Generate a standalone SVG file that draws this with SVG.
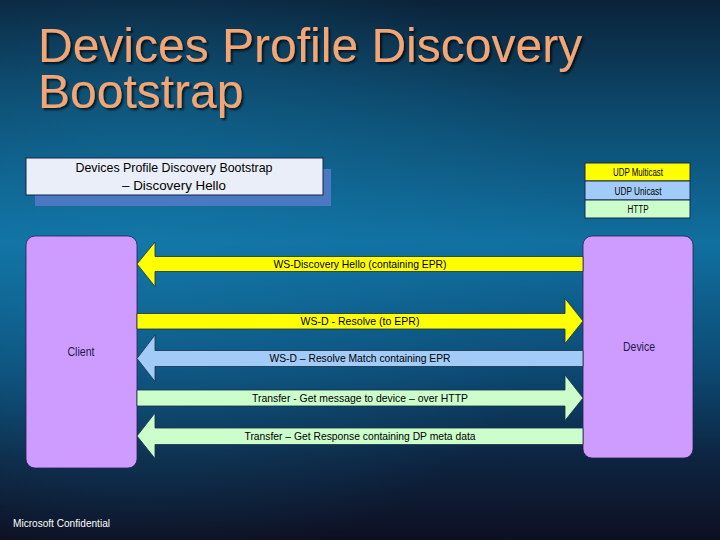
<svg xmlns="http://www.w3.org/2000/svg" width="720" height="540" viewBox="0 0 720 540">
  <defs>
    <linearGradient id="bg" x1="0" y1="0" x2="0" y2="1">
      <stop offset="0" stop-color="#0B2238"/>
      <stop offset="0.18" stop-color="#0C4466"/>
      <stop offset="0.45" stop-color="#1070A0"/>
      <stop offset="0.68" stop-color="#0C4A74"/>
      <stop offset="0.85" stop-color="#0D2440"/>
      <stop offset="1" stop-color="#0E0F22"/>
    </linearGradient>
    <radialGradient id="glow" cx="0.2" cy="0.45" r="0.6">
      <stop offset="0" stop-color="#1580B0" stop-opacity="0.45"/>
      <stop offset="1" stop-color="#1580B0" stop-opacity="0"/>
    </radialGradient>
    <filter id="tshadow" x="-5%" y="-5%" width="110%" height="120%">
      <feDropShadow dx="2" dy="2" stdDeviation="0.8" flood-color="#000" flood-opacity="0.7"/>
    </filter>
  </defs>
  <style>
    .title { font-family: "Liberation Sans", Arial, sans-serif; font-size: 48px; fill: #F2A676; }
    .lbl { font-family: "Liberation Sans", Arial, sans-serif; fill: #000; }
    .arrowtxt { font-family: "Liberation Sans", Arial, sans-serif; font-size: 11.5px; fill: #000; text-anchor: middle; }
    .node { fill: #CE9BFE; stroke: #2A2050; stroke-width: 0.8; }
    .nodetxt { font-family: "Liberation Sans", Arial, sans-serif; font-size: 12.5px; fill: #1C1C4A; text-anchor: middle; }
    .arr { stroke: #1B2E48; stroke-width: 0.8; stroke-linejoin: miter; }
    .yel { fill: #FFFF00; }
    .blu { fill: #A2CBF8; }
    .grn { fill: #CCFECC; }
    .legtxt { font-family: "Liberation Sans", Arial, sans-serif; font-size: 10px; fill: #000; text-anchor: middle; }
  </style>

  <rect x="0" y="0" width="720" height="540" fill="url(#bg)"/>
  <rect x="0" y="0" width="720" height="540" fill="url(#glow)"/>

  <g id="title" filter="url(#tshadow)">
    <text class="title" x="38" y="62">Devices Profile Discovery<tspan x="38" y="108">Bootstrap</tspan></text>
  </g>

  <g id="header">
    <rect x="35" y="169" width="296" height="37" fill="#4A78C2"/>
    <rect x="26" y="158" width="297" height="37" fill="#E9EEF8" stroke="#1A2440" stroke-width="1"/>
    <text class="lbl" x="174" y="172" font-size="13.5" text-anchor="middle" textLength="197" lengthAdjust="spacingAndGlyphs">Devices Profile Discovery Bootstrap</text>
    <text class="lbl" x="174" y="190" font-size="13.5" text-anchor="middle" textLength="104" lengthAdjust="spacingAndGlyphs">– Discovery Hello</text>
  </g>

  <g id="legend">
    <rect x="585" y="163" width="105" height="18" fill="#FFFF00" stroke="#1A2A50" stroke-width="1"/>
    <rect x="585" y="181" width="105" height="19" fill="#A2CBF8" stroke="#1A2A50" stroke-width="1"/>
    <rect x="585" y="200" width="105" height="18" fill="#CCFECC" stroke="#1A2A50" stroke-width="1"/>
    <text class="legtxt" x="638" y="175.5" textLength="50" lengthAdjust="spacingAndGlyphs">UDP Multicast</text>
    <text class="legtxt" x="638" y="194.5" textLength="47" lengthAdjust="spacingAndGlyphs">UDP Unicast</text>
    <text class="legtxt" x="638" y="213" textLength="21" lengthAdjust="spacingAndGlyphs">HTTP</text>
  </g>

  <g id="client">
    <rect class="node" x="26" y="236" width="111" height="232" rx="9" ry="9"/>
    <text class="nodetxt" x="81" y="356" textLength="27" lengthAdjust="spacingAndGlyphs">Client</text>
  </g>

  <g id="device">
    <rect class="node" x="583" y="236" width="110" height="222" rx="9" ry="9"/>
    <text class="nodetxt" x="639" y="351" textLength="32" lengthAdjust="spacingAndGlyphs">Device</text>
  </g>

  <g id="connectors">
    <g id="msg1">
      <polygon class="arr yel" points="583,256.5 155,256.5 155,242 137,264 155,286.5 155,271.5 583,271.5"/>
      <text class="arrowtxt" x="360" y="268" textLength="173" lengthAdjust="spacingAndGlyphs">WS-Discovery Hello (containing EPR)</text>
    </g>
    <g id="msg2">
      <polygon class="arr yel" points="137,313.5 565,313.5 565,298.5 583,321 565,343.5 565,329 137,329"/>
      <text class="arrowtxt" x="360" y="325" textLength="119" lengthAdjust="spacingAndGlyphs">WS-D -  Resolve (to EPR)</text>
    </g>
    <g id="msg3">
      <polygon class="arr blu" points="583,350.5 155,350.5 155,335 137,358.5 155,381.5 155,366.5 583,366.5"/>
      <text class="arrowtxt" x="360" y="362" textLength="181" lengthAdjust="spacingAndGlyphs">WS-D – Resolve Match containing EPR</text>
    </g>
    <g id="msg4">
      <polygon class="arr grn" points="137,390 565,390 565,375 583,398 565,420.5 565,406 137,406"/>
      <text class="arrowtxt" x="360" y="402" textLength="216" lengthAdjust="spacingAndGlyphs">Transfer -  Get message to device – over HTTP</text>
    </g>
    <g id="msg5">
      <polygon class="arr grn" points="583,428 155,428 155,413 137,436 155,458.5 155,444.5 583,444.5"/>
      <text class="arrowtxt" x="360" y="440" textLength="231" lengthAdjust="spacingAndGlyphs">Transfer – Get Response containing DP meta data</text>
    </g>
  </g>

  <text x="13" y="527" font-family="Liberation Sans, Arial, sans-serif" font-size="10" fill="#FFFFFF" textLength="97" lengthAdjust="spacingAndGlyphs">Microsoft Confidential</text>
</svg>
